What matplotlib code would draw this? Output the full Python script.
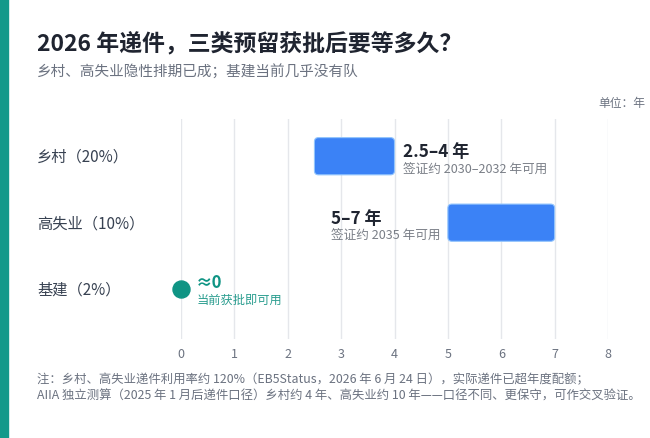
import matplotlib

matplotlib.use("Agg")
import matplotlib.pyplot as plt
from matplotlib.patches import FancyBboxPatch, Rectangle
from matplotlib.transforms import blended_transform_factory

plt.rcParams["font.family"] = ["Noto Sans CJK SC", "DejaVu Sans"]

# Data
categories = ["乡村（20%）", "高失业（10%）", "基建（2%）"]
wait_low = [2.5, 5.0, 0.0]
wait_high = [4.0, 7.0, 0.0]
range_labels = ["2.5–4 年", "5–7 年", "≈0"]
visa_notes = ["签证约 2030–2032 年可用", "签证约 2035 年可用", "当前获批即可用"]
x_ticks = [0, 1, 2, 3, 4, 5, 6, 7, 8]

title = "2026 年递件，三类预留获批后要等多久？"
subtitle = "乡村、高失业隐性排期已成；基建当前几乎没有队"
unit_label = "单位：年"
footnotes = [
    "注：乡村、高失业递件利用率约 120%（EB5Status，2026 年 6 月 24 日），实际递件已超年度配额；",
    "AIIA 独立测算（2025 年 1 月后递件口径）乡村约 4 年、高失业约 10 年——口径不同、更保守，可作交叉验证。",
]

BLUE = "#3b82f6"
TEAL = "#0f9484"
DARK = "#1f2430"
GRAY = "#6b7280"
NOTE_GRAY = "#7a7f87"

W, H = 650, 439
fig = plt.figure(figsize=(W / 100, H / 100), dpi=100)
fig.patch.set_facecolor("white")

# Teal accent stripe on the left edge
fig.patches.append(
    Rectangle((0, 0), 8 / W, 1, transform=fig.transFigure, color="#13998a", zorder=0)
)

ax = fig.add_axes([181 / W, 1 - 340 / H, (608 - 181) / W, (340 - 120) / H])
ax.set_xlim(0, 8)
ax.set_ylim(2.75, -0.56)
for side in ax.spines.values():
    side.set_visible(False)
ax.set_xticks(x_ticks)
ax.set_yticks([])
ax.tick_params(axis="x", length=0, pad=6, labelsize=9, labelcolor=GRAY)
ax.grid(axis="x", color="#e5e7eb", linewidth=1)
ax.set_axisbelow(True)

# Bars with rounded corners
px_x = 8 / (608 - 181)
px_y = 3.31 / (340 - 120)
bar_h = 0.56
for i, (lo, hi) in enumerate(zip(wait_low, wait_high)):
    if hi > lo:
        ax.add_patch(
            FancyBboxPatch(
                (lo, i - bar_h / 2),
                hi - lo,
                bar_h,
                boxstyle="round,pad=0,rounding_size=%f" % (4 * px_x),
                mutation_aspect=px_y / px_x,
                facecolor=BLUE,
                edgecolor="#93c5fd",
                linewidth=0.8,
                zorder=3,
            )
        )
    else:
        ax.scatter([lo], [i], s=150, color=TEAL, zorder=4, clip_on=False)

# Row 0: labels to the right of the bar
ax.annotate(range_labels[0], (wait_high[0], 0), xytext=(6, 3.6),
            textcoords="offset points", ha="left", va="center",
            fontsize=12.3, fontweight="bold", color=DARK)
ax.annotate(visa_notes[0], (wait_high[0], 0), xytext=(6, -9.4),
            textcoords="offset points", ha="left", va="center",
            fontsize=9.1, color=NOTE_GRAY)

# Row 1: labels to the left of the bar
note1 = ax.annotate(visa_notes[1], (wait_low[1], 1), xytext=(-5.5, -9.4),
                    textcoords="offset points", ha="right", va="center",
                    fontsize=9.1, color=NOTE_GRAY)
fig.canvas.draw()
left_px = note1.get_window_extent().x0
left_data = ax.transData.inverted().transform((left_px, 0))[0]
ax.annotate(range_labels[1], (left_data, 1), xytext=(0, 3.6),
            textcoords="offset points", ha="left", va="center",
            fontsize=12.3, fontweight="bold", color=DARK)

# Row 2: point with teal labels
ax.annotate(range_labels[2], (wait_low[2], 2), xytext=(11, 5),
            textcoords="offset points", ha="left", va="center",
            fontsize=12, fontweight="bold", color=TEAL)
ax.annotate(visa_notes[2], (wait_low[2], 2), xytext=(11, -7.5),
            textcoords="offset points", ha="left", va="center",
            fontsize=8.8, color="#2a9d8f")

# Category labels aligned with the title on the left
label_tf = blended_transform_factory(fig.transFigure, ax.transData)
for i, name in enumerate(categories):
    ax.text(37 / W, i, name, transform=label_tf, ha="left", va="center",
            fontsize=11, color="#374151")

# Header and footer texts
fig.text(37 / W, 1 - 45 / H, title, ha="left", va="center",
         fontsize=16.5, fontweight="bold", color=DARK)
fig.text(37 / W, 1 - 72 / H, subtitle, ha="left", va="center",
         fontsize=10.5, color=GRAY)
fig.text(645 / W, 1 - 104 / H, unit_label, ha="right", va="center",
         fontsize=8.5, color=GRAY)
for k, line in enumerate(footnotes):
    fig.text(37 / W, 1 - (380 + 16 * k) / H, line, ha="left", va="center",
             fontsize=8.9, color=GRAY)

fig.savefig("out.png", dpi=100, facecolor="white")
